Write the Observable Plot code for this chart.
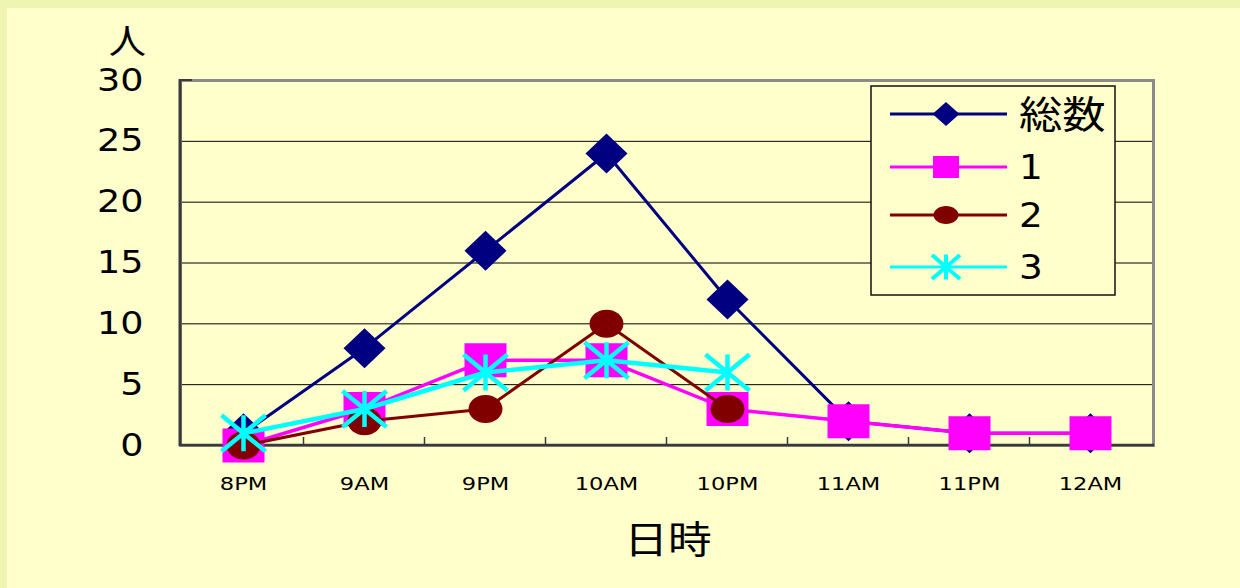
<!DOCTYPE html>
<html><head><meta charset="utf-8">
<script src="https://cdn.jsdelivr.net/npm/d3@7"></script>
<script src="https://cdn.jsdelivr.net/npm/@observablehq/plot@0.6"></script>
<style>
html,body{margin:0;padding:0;background:#FFFFCC;}
#wrap{position:relative;width:1240px;height:588px;background:#FFFFCC;overflow:hidden;}
#stripT{position:absolute;left:0;top:0;width:1240px;height:8px;background:#EEF5B2;}
#stripL{position:absolute;left:0;top:0;width:7px;height:588px;background:#EEF5B2;}
#chart{position:absolute;left:0;top:0;}
</style></head>
<body><div id="wrap"><div id="stripT"></div><div id="stripL"></div><div id="chart"></div></div>
<script>
// ---- data ----
const times = ["8PM","9AM","9PM","10AM","10PM","11AM","11PM","12AM"];
const seriesNames = ["総数","1","2","3"];
const totalValues = [1,8,16,24,12,2,1,1];
const s1Values = [0,3,7,7,3,2,1,1];
const s2Values = [0,2,3,10,3,null,null,null];
const s3Values = [1,3,6,7,6,null,null,null];
const yTicks = [0,5,10,15,20,25,30];
const xTitle = "日時";
const yTitle = "人";

// ---- symbols ----
function diamond(w,h){return {draw(c){c.moveTo(0,-h);c.lineTo(w,0);c.lineTo(0,h);c.lineTo(-w,0);c.closePath();}};}
function rect(w,h){return {draw(c){c.moveTo(-w,-h);c.lineTo(w,-h);c.lineTo(w,h);c.lineTo(-w,h);c.closePath();}};}
function ellipse(rx,ry){const k=0.5523;return {draw(c){
  c.moveTo(rx,0);c.bezierCurveTo(rx,ry*k,rx*k,ry,0,ry);c.bezierCurveTo(-rx*k,ry,-rx,ry*k,-rx,0);
  c.bezierCurveTo(-rx,-ry*k,-rx*k,-ry,0,-ry);c.bezierCurveTo(rx*k,-ry,rx,-ry*k,rx,0);c.closePath();}};}
function star(w,h,v){return {draw(c){c.moveTo(0,-v);c.lineTo(0,v);c.moveTo(-w,-h);c.lineTo(w,h);c.moveTo(-w,h);c.lineTo(w,-h);}};}

const styles = [
  {color:"#000080", lw:3, sym:diamond(21,20), lsym:diamond(13.5,12), filled:true},
  {color:"#FF00FF", lw:3.5, sym:rect(21,17), lsym:rect(13,11), filled:true},
  {color:"#800000", lw:3, sym:ellipse(17,14), lsym:ellipse(12.5,9), filled:true},
  {color:"#00FFFF", lw:4.5, sym:star(22,18,18), lsym:star(14,12,12.5), filled:false, sw:4.5}
];
const allValues = [totalValues, s1Values, s2Values, s3Values];
const rows = allValues.map((vals, si) => times.map((t,i)=>({t, v: vals[i], s: seriesNames[si]})).filter(d => d.v != null));

const seriesMarks = [];
rows.forEach((data, si) => {
  const st = styles[si];
  seriesMarks.push(Plot.line(data, {x:"t", y:"v", stroke: st.color, strokeWidth: st.lw}));
  seriesMarks.push(Plot.dot(data, {x:"t", y:"v", symbol: st.sym, r: 10,
    fill: st.filled ? st.color : "none", stroke: st.filled ? "none" : st.color,
    strokeWidth: st.sw || 1}));
});

function frameDeco(index, scales, values, dim){
  const g = d3.create("svg:g");
  const L = dim.marginLeft, R = dim.width - dim.marginRight, T = dim.marginTop, B = dim.height - dim.marginBottom;
  const step = scales.x(times[1]) - scales.x(times[0]);
  g.append("line").attr("x1",L).attr("x2",L).attr("y1",T-1).attr("y2",B+1).attr("stroke","#3a3a3a").attr("stroke-width",3);
  g.append("line").attr("x1",L).attr("x2",R+1).attr("y1",B).attr("y2",B).attr("stroke","#3a3a3a").attr("stroke-width",2.5);
  times.slice(1).forEach(t => {
    const xx = scales.x(t) - step/2;
    g.append("line").attr("x1",xx).attr("x2",xx).attr("y1",B).attr("y2",B-8).attr("stroke","#3a3a3a").attr("stroke-width",1.5);
  });
  g.append("line").attr("x1",L).attr("x2",L+12).attr("y1",T).attr("y2",T).attr("stroke","#3a3a3a").attr("stroke-width",2);
  return g.node();
}

function legend(index, scales, values, dim){
  const g = d3.create("svg:g").attr("text-anchor","start");
  const bx = 871, by = 86, bw = 244, bh = 209;
  g.append("rect").attr("x",bx).attr("y",by).attr("width",bw).attr("height",bh)
    .attr("fill","#FFFFCC").attr("stroke","#111").attr("stroke-width",1.5);
  const rowsY = [114,167,215,267];
  seriesNames.forEach((name, i) => {
    const st = styles[i], y = rowsY[i];
    g.append("line").attr("x1",890).attr("x2",1007).attr("y1",y).attr("y2",y).attr("stroke",st.color).attr("stroke-width",3);
    const p = d3.path(); st.lsym.draw(p);
    g.append("path").attr("d",p.toString()).attr("transform",`translate(946,${y})`)
      .attr("fill", st.filled ? st.color : "none").attr("stroke", st.filled ? "none" : st.color).attr("stroke-width",4);
    const tx = g.append("text").attr("transform",`translate(1019,${y}) scale(${i === 0 ? 1.14 : 1.1},1)`)
      .attr("dy","0.36em").text(name).attr("fill","#000");
    if (i === 0) tx.attr("font-family","'Noto Sans CJK JP', sans-serif").attr("font-size",38).attr("dy","0.37em");
    else tx.attr("font-family","'DejaVu Sans', sans-serif").attr("font-size",34);
  });
  return g.node();
}

const chart = Plot.plot({
  width:1240, height:588,
  marginLeft:180, marginRight:87, marginTop:80, marginBottom:143,
  style:{background:"transparent", fontFamily:"'DejaVu Sans', sans-serif", color:"#000"},
  x:{type:"point", domain:times, padding:0.5, label:null},
  y:{domain:[0,30], label:null},
  marks:[
    Plot.ruleY(yTicks.slice(1,-1), {stroke:"#000", strokeWidth:1}),
    Plot.frame({stroke:"#8a8a8a", strokeWidth:3}),
    frameDeco,
    Plot.axisY({ticks:yTicks, tickSize:0, tickPadding:37, fontSize:31.5, label:null}),
    Plot.axisX({tickSize:0, tickPadding:31, fontSize:18.5, label:null}),
    Plot.text([xTitle], {frameAnchor:"bottom", dy:95, dx:1, lineAnchor:"middle", fontSize:38, fontFamily:"'Noto Sans CJK JP', sans-serif", fill:"#000"}),
    Plot.text([yTitle], {frameAnchor:"top-left", dx:-53, dy:-37, lineAnchor:"middle", textAnchor:"middle", fontSize:34, fontFamily:"'Noto Sans CJK JP', sans-serif", fill:"#000"}),
    ...seriesMarks,
    legend
  ]
});

// horizontal stretch of glyphs, as in the reference
function stretch(node, s){
  const t = node.getAttribute("transform");
  if (t) node.setAttribute("transform", t + ` scale(${s},1)`);
  else {
    const x = +node.getAttribute("x") || 0, y = +node.getAttribute("y") || 0;
    node.setAttribute("x", 0); node.setAttribute("y", 0);
    node.setAttribute("transform", `translate(${x},${y}) scale(${s},1)`);
  }
}
const sel = d3.select(chart);
sel.selectAll('g[aria-label="y-axis tick label"] text').each(function(){ stretch(this, 1.16); });
sel.selectAll('g[aria-label="x-axis tick label"] text').each(function(){ stretch(this, 1.22); });
sel.selectAll("text").filter(function(){ return this.textContent === xTitle; }).each(function(){ stretch(this, 1.15); });
sel.selectAll("text").filter(function(){ return this.textContent === yTitle; }).each(function(){ stretch(this, 1.1); });
document.getElementById("chart").appendChild(chart);
</script>
</body></html>
